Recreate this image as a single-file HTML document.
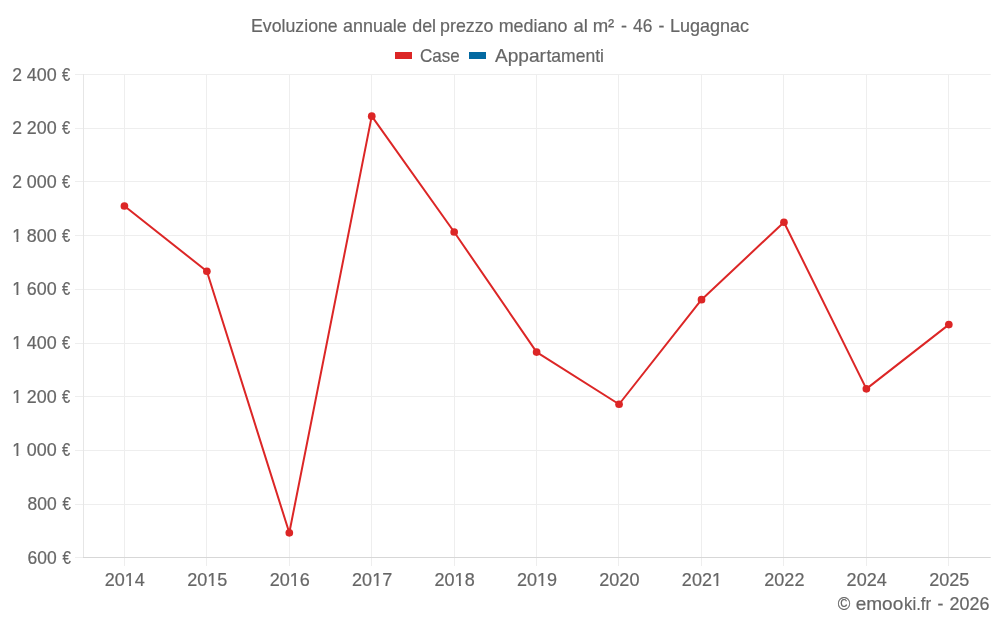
<!DOCTYPE html><html lang="it"><head><meta charset="utf-8"><title>chart</title><style>html,body{margin:0;padding:0;background:#fff}svg{display:block;will-change:transform;opacity:0.999}text{font-family:"Liberation Sans",sans-serif;fill:#666;stroke:#666;stroke-width:0.2px}</style></head><body>
<svg width="1000" height="625" viewBox="0 0 1000 625">
<rect width="1000" height="625" fill="#fff"/>
<g stroke="#eeeeee" stroke-width="1">
<line x1="75" x2="990.7" y1="74.5" y2="74.5"/>
<line x1="75" x2="990.7" y1="128.5" y2="128.5"/>
<line x1="75" x2="990.7" y1="181.5" y2="181.5"/>
<line x1="75" x2="990.7" y1="235.5" y2="235.5"/>
<line x1="75" x2="990.7" y1="289.5" y2="289.5"/>
<line x1="75" x2="990.7" y1="343.5" y2="343.5"/>
<line x1="75" x2="990.7" y1="396.5" y2="396.5"/>
<line x1="75" x2="990.7" y1="450.5" y2="450.5"/>
<line x1="75" x2="990.7" y1="504.5" y2="504.5"/>
<line x1="75" x2="83" y1="557.5" y2="557.5"/>
<line x1="124.5" x2="124.5" y1="74" y2="566"/>
<line x1="206.5" x2="206.5" y1="74" y2="566"/>
<line x1="289.5" x2="289.5" y1="74" y2="566"/>
<line x1="371.5" x2="371.5" y1="74" y2="566"/>
<line x1="454.5" x2="454.5" y1="74" y2="566"/>
<line x1="536.5" x2="536.5" y1="74" y2="566"/>
<line x1="618.5" x2="618.5" y1="74" y2="566"/>
<line x1="701.5" x2="701.5" y1="74" y2="566"/>
<line x1="783.5" x2="783.5" y1="74" y2="566"/>
<line x1="866.5" x2="866.5" y1="74" y2="566"/>
<line x1="948.5" x2="948.5" y1="74" y2="566"/>
</g>
<line x1="83.5" x2="83.5" y1="74" y2="557" stroke="#e6e6e6"/>
<line x1="83" x2="990.7" y1="557.5" y2="557.5" stroke="#d7d7d7"/>
<polyline points="124.42,206.00 206.86,271.25 289.30,532.80 371.74,116.15 454.18,232.00 536.62,352.10 619.06,404.25 701.50,299.70 783.94,222.25 866.38,388.85 948.82,324.60" fill="none" stroke="#dc2626" stroke-width="2" stroke-linejoin="round"/>
<circle cx="124.42" cy="206.00" r="3.85" fill="#dc2626"/>
<circle cx="206.86" cy="271.25" r="3.85" fill="#dc2626"/>
<circle cx="289.30" cy="532.80" r="3.85" fill="#dc2626"/>
<circle cx="371.74" cy="116.15" r="3.85" fill="#dc2626"/>
<circle cx="454.18" cy="232.00" r="3.85" fill="#dc2626"/>
<circle cx="536.62" cy="352.10" r="3.85" fill="#dc2626"/>
<circle cx="619.06" cy="404.25" r="3.85" fill="#dc2626"/>
<circle cx="701.50" cy="299.70" r="3.85" fill="#dc2626"/>
<circle cx="783.94" cy="222.25" r="3.85" fill="#dc2626"/>
<circle cx="866.38" cy="388.85" r="3.85" fill="#dc2626"/>
<circle cx="948.82" cy="324.60" r="3.85" fill="#dc2626"/>
<text x="251.07" y="32.30" font-size="18.6" textLength="86.61" lengthAdjust="spacingAndGlyphs">Evoluzione</text>
<text x="343.08" y="32.30" font-size="18.6" textLength="63.72" lengthAdjust="spacingAndGlyphs">annuale</text>
<text x="412.18" y="32.30" font-size="18.6" textLength="23.90" lengthAdjust="spacingAndGlyphs">del</text>
<text x="440.10" y="32.30" font-size="18.6" textLength="53.37" lengthAdjust="spacingAndGlyphs">prezzo</text>
<text x="498.70" y="32.30" font-size="18.6" textLength="68.70" lengthAdjust="spacingAndGlyphs">mediano</text>
<text x="573.56" y="32.30" font-size="18.6" textLength="14.37" lengthAdjust="spacingAndGlyphs">al</text>
<text x="592.65" y="32.30" font-size="18.6" textLength="21.63" lengthAdjust="spacingAndGlyphs">m²</text>
<text x="621.07" y="32.30" font-size="18.6" textLength="6.01" lengthAdjust="spacingAndGlyphs">-</text>
<text x="633.03" y="32.30" font-size="18.6" textLength="19.31" lengthAdjust="spacingAndGlyphs">46</text>
<text x="658.59" y="32.30" font-size="18.6" textLength="5.88" lengthAdjust="spacingAndGlyphs">-</text>
<text x="670.05" y="32.30" font-size="18.6" textLength="79.08" lengthAdjust="spacingAndGlyphs">Lugagnac</text>
<text x="419.98" y="61.80" font-size="18.6" textLength="39.76" lengthAdjust="spacingAndGlyphs">Case</text>
<text x="494.90" y="61.80" font-size="18.6" textLength="50.99" lengthAdjust="spacingAndGlyphs">Appar</text>
<text x="546.46" y="61.80" font-size="18.6" textLength="57.50" lengthAdjust="spacingAndGlyphs">tamenti</text>
<text x="837.72" y="609.70" font-size="18.6" textLength="12.57" lengthAdjust="spacingAndGlyphs">©</text>
<text x="855.73" y="609.70" font-size="18.6" textLength="47.55" lengthAdjust="spacingAndGlyphs">emoo</text>
<text x="903.97" y="609.70" font-size="18.6" textLength="27.12" lengthAdjust="spacingAndGlyphs">ki.fr</text>
<text x="937.54" y="609.70" font-size="18.6" textLength="5.88" lengthAdjust="spacingAndGlyphs">-</text>
<text x="949.53" y="609.70" font-size="18.6" textLength="39.96" lengthAdjust="spacingAndGlyphs">2026</text>
<rect x="395" y="52" width="17" height="7" fill="#dc2626"/>
<rect x="469" y="52" width="17" height="7" fill="#0369a1"/>
<text x="12.26" y="80.60" font-size="18.6" textLength="9.74" lengthAdjust="spacingAndGlyphs">2</text>
<text x="26.78" y="80.60" font-size="18.6" textLength="29.87" lengthAdjust="spacingAndGlyphs">400</text>
<text x="62.00" y="80.60" font-size="18.6" textLength="8.17" lengthAdjust="spacingAndGlyphs">€</text>
<text x="12.26" y="134.27" font-size="18.6" textLength="9.74" lengthAdjust="spacingAndGlyphs">2</text>
<text x="26.78" y="134.27" font-size="18.6" textLength="29.87" lengthAdjust="spacingAndGlyphs">200</text>
<text x="62.00" y="134.27" font-size="18.6" textLength="8.17" lengthAdjust="spacingAndGlyphs">€</text>
<text x="12.26" y="187.93" font-size="18.6" textLength="9.74" lengthAdjust="spacingAndGlyphs">2</text>
<text x="26.78" y="187.93" font-size="18.6" textLength="29.87" lengthAdjust="spacingAndGlyphs">000</text>
<text x="62.00" y="187.93" font-size="18.6" textLength="8.17" lengthAdjust="spacingAndGlyphs">€</text>
<text x="12.26" y="241.60" font-size="18.6" textLength="9.74" lengthAdjust="spacingAndGlyphs">1</text>
<text x="26.78" y="241.60" font-size="18.6" textLength="29.87" lengthAdjust="spacingAndGlyphs">800</text>
<text x="62.00" y="241.60" font-size="18.6" textLength="8.17" lengthAdjust="spacingAndGlyphs">€</text>
<rect x="12.73" y="239.40" width="3.76" height="3" fill="#fff"/>
<rect x="18.38" y="239.40" width="3.60" height="3" fill="#fff"/>
<text x="12.26" y="295.27" font-size="18.6" textLength="9.74" lengthAdjust="spacingAndGlyphs">1</text>
<text x="26.78" y="295.27" font-size="18.6" textLength="29.87" lengthAdjust="spacingAndGlyphs">600</text>
<text x="62.00" y="295.27" font-size="18.6" textLength="8.17" lengthAdjust="spacingAndGlyphs">€</text>
<rect x="12.73" y="293.07" width="3.76" height="3" fill="#fff"/>
<rect x="18.38" y="293.07" width="3.60" height="3" fill="#fff"/>
<text x="12.26" y="348.93" font-size="18.6" textLength="9.74" lengthAdjust="spacingAndGlyphs">1</text>
<text x="26.78" y="348.93" font-size="18.6" textLength="29.87" lengthAdjust="spacingAndGlyphs">400</text>
<text x="62.00" y="348.93" font-size="18.6" textLength="8.17" lengthAdjust="spacingAndGlyphs">€</text>
<rect x="12.73" y="346.73" width="3.76" height="3" fill="#fff"/>
<rect x="18.38" y="346.73" width="3.60" height="3" fill="#fff"/>
<text x="12.26" y="402.60" font-size="18.6" textLength="9.74" lengthAdjust="spacingAndGlyphs">1</text>
<text x="26.78" y="402.60" font-size="18.6" textLength="29.87" lengthAdjust="spacingAndGlyphs">200</text>
<text x="62.00" y="402.60" font-size="18.6" textLength="8.17" lengthAdjust="spacingAndGlyphs">€</text>
<rect x="12.73" y="400.40" width="3.76" height="3" fill="#fff"/>
<rect x="18.38" y="400.40" width="3.60" height="3" fill="#fff"/>
<text x="12.26" y="456.27" font-size="18.6" textLength="9.74" lengthAdjust="spacingAndGlyphs">1</text>
<text x="26.78" y="456.27" font-size="18.6" textLength="29.87" lengthAdjust="spacingAndGlyphs">000</text>
<text x="62.00" y="456.27" font-size="18.6" textLength="8.17" lengthAdjust="spacingAndGlyphs">€</text>
<rect x="12.73" y="454.07" width="3.76" height="3" fill="#fff"/>
<rect x="18.38" y="454.07" width="3.60" height="3" fill="#fff"/>
<text x="27.60" y="509.93" font-size="18.6" textLength="29.14" lengthAdjust="spacingAndGlyphs">800</text>
<text x="62.60" y="509.93" font-size="18.6" textLength="8.38" lengthAdjust="spacingAndGlyphs">€</text>
<text x="27.60" y="563.60" font-size="18.6" textLength="29.14" lengthAdjust="spacingAndGlyphs">600</text>
<text x="62.60" y="563.60" font-size="18.6" textLength="8.38" lengthAdjust="spacingAndGlyphs">€</text>
<text x="104.65" y="585.80" font-size="18.6" textLength="40.18" lengthAdjust="spacingAndGlyphs">2014</text>
<rect x="125.22" y="583.60" width="3.88" height="3" fill="#fff"/>
<rect x="131.05" y="583.60" width="3.71" height="3" fill="#fff"/>
<text x="187.21" y="585.80" font-size="18.6" textLength="40.18" lengthAdjust="spacingAndGlyphs">2015</text>
<rect x="207.78" y="583.60" width="3.88" height="3" fill="#fff"/>
<rect x="213.61" y="583.60" width="3.71" height="3" fill="#fff"/>
<text x="269.65" y="585.80" font-size="18.6" textLength="40.18" lengthAdjust="spacingAndGlyphs">2016</text>
<rect x="290.22" y="583.60" width="3.88" height="3" fill="#fff"/>
<rect x="296.05" y="583.60" width="3.71" height="3" fill="#fff"/>
<text x="352.09" y="585.80" font-size="18.6" textLength="40.18" lengthAdjust="spacingAndGlyphs">2017</text>
<rect x="372.66" y="583.60" width="3.88" height="3" fill="#fff"/>
<rect x="378.49" y="583.60" width="3.71" height="3" fill="#fff"/>
<text x="434.53" y="585.80" font-size="18.6" textLength="40.18" lengthAdjust="spacingAndGlyphs">2018</text>
<rect x="455.10" y="583.60" width="3.88" height="3" fill="#fff"/>
<rect x="460.93" y="583.60" width="3.71" height="3" fill="#fff"/>
<text x="516.97" y="585.80" font-size="18.6" textLength="40.18" lengthAdjust="spacingAndGlyphs">2019</text>
<rect x="537.54" y="583.60" width="3.88" height="3" fill="#fff"/>
<rect x="543.37" y="583.60" width="3.71" height="3" fill="#fff"/>
<text x="599.29" y="585.80" font-size="18.6" textLength="40.18" lengthAdjust="spacingAndGlyphs">2020</text>
<text x="681.85" y="585.80" font-size="18.6" textLength="40.18" lengthAdjust="spacingAndGlyphs">2021</text>
<rect x="712.47" y="583.60" width="3.88" height="3" fill="#fff"/>
<rect x="718.30" y="583.60" width="3.71" height="3" fill="#fff"/>
<text x="764.29" y="585.80" font-size="18.6" textLength="40.18" lengthAdjust="spacingAndGlyphs">2022</text>
<text x="846.61" y="585.80" font-size="18.6" textLength="40.18" lengthAdjust="spacingAndGlyphs">2024</text>
<text x="929.17" y="585.80" font-size="18.6" textLength="40.18" lengthAdjust="spacingAndGlyphs">2025</text>
</svg></body></html>
